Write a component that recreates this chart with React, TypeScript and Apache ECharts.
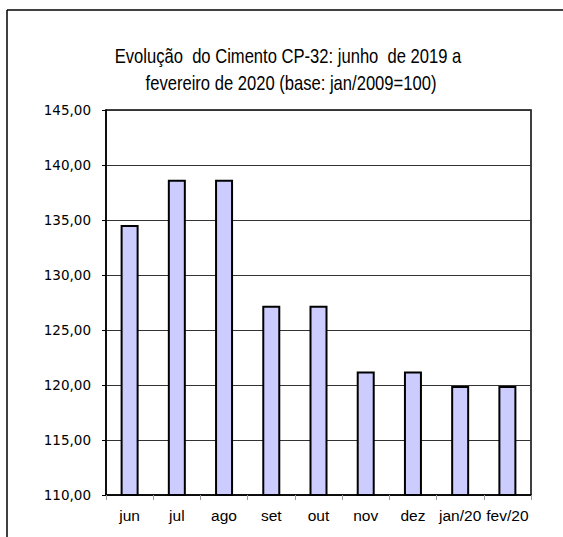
import React, { useEffect, useRef } from "react";
import * as echarts from "echarts";

const categories = ["jun", "jul", "ago", "set", "out", "nov", "dez", "jan/20", "fev/20"];
const values = [134.55, 138.65, 138.65, 127.2, 127.2, 121.22, 121.22, 119.9, 119.9];
const titleLines = [
  "Evolução  do Cimento CP-32: junho  de 2019 a",
  "fevereiro de 2020 (base: jan/2009=100)",
];
const yMin = 110;
const yMax = 145;
const yStep = 5;

export default function App() {
  const ref = useRef<HTMLDivElement>(null);
  useEffect(() => {
    const chart = echarts.init(ref.current!, null, { renderer: "svg" });
    chart.setOption({
      animation: false,
      backgroundColor: "#ffffff",
      grid: {
        left: 106,
        top: 110,
        right: 32,
        bottom: 42,
        show: true,
        borderColor: "#000000",
        borderWidth: 1.5,
        backgroundColor: "transparent",
      },
      graphic: [
        { type: "line", shape: { x1: 7, y1: 10, x2: 563, y2: 10 }, style: { stroke: "#000", lineWidth: 1.5 } },
        { type: "line", shape: { x1: 7, y1: 10, x2: 7, y2: 537 }, style: { stroke: "#000", lineWidth: 1.5 } },
        {
          type: "text",
          x: 288,
          y: 56,
          scaleX: 0.83,
          style: {
            text: titleLines[0],
            fontFamily: "Liberation Sans",
            fontSize: 20,
            fill: "#000",
            align: "center",
            verticalAlign: "middle",
          },
        },
        {
          type: "text",
          x: 291,
          y: 83,
          scaleX: 0.83,
          style: {
            text: titleLines[1],
            fontFamily: "Liberation Sans",
            fontSize: 20,
            fill: "#000",
            align: "center",
            verticalAlign: "middle",
          },
        },
      ],
      xAxis: {
        type: "category",
        data: categories,
        axisLine: { lineStyle: { color: "#000", width: 1.5 } },
        axisTick: { show: true, length: 5, lineStyle: { color: "#999" } },
        axisLabel: {
          fontFamily: "Liberation Sans",
          fontSize: 15.5,
          color: "#000",
          margin: 12,
          interval: 0,
        },
      },
      yAxis: {
        type: "value",
        min: yMin,
        max: yMax,
        interval: yStep,
        axisLine: { show: true, lineStyle: { color: "#000", width: 1.5 } },
        axisTick: { show: true, length: 4, lineStyle: { color: "#000" } },
        axisLabel: {
          fontFamily: "DejaVu Sans",
          fontSize: 13.5,
          color: "#000",
          margin: 15,
          formatter: (v: number) => v.toFixed(2).replace(".", ","),
        },
        splitLine: { show: true, lineStyle: { color: "#333", width: 1.2 } },
      },
      series: [
        {
          type: "bar",
          data: values,
          barWidth: 18,
          itemStyle: { color: "#CCCCFF", borderColor: "#000", borderWidth: 2 },
        },
      ],
    });
    return () => chart.dispose();
  }, []);
  return (
    <div
      ref={ref}
      style={{ position: "fixed", left: 0, top: 0, width: 563, height: 537 }}
    />
  );
}
